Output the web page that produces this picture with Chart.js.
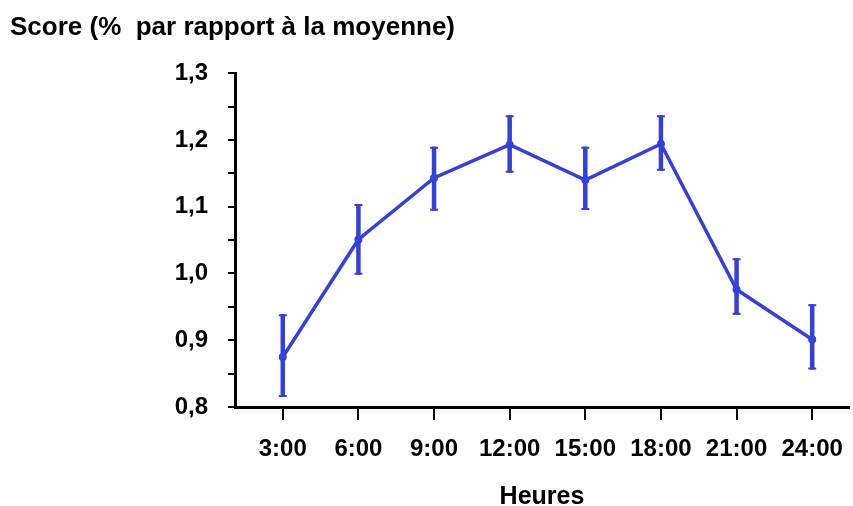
<!DOCTYPE html>
<html>
<head>
<meta charset="utf-8">
<script src="https://cdn.jsdelivr.net/npm/chart.js@4/dist/chart.umd.min.js"></script>
<style>
  html, body { margin: 0; padding: 0; background: #fff; }
  #wrap { width: 853px; height: 506px; }
</style>
</head>
<body>
<div id="wrap"><canvas id="chart"></canvas></div>
<script>
/* data ----------------------------------------------------------- */
const hours      = [3, 6, 9, 12, 15, 18, 21, 24];
const hourLabels = ['3:00', '6:00', '9:00', '12:00', '15:00', '18:00', '21:00', '24:00'];
const scores     = [0.875, 1.051, 1.143, 1.193, 1.140, 1.194, 0.976, 0.901];
const errHigh    = [0.939, 1.104, 1.190, 1.237, 1.190, 1.237, 1.023, 0.954];
const errLow     = [0.815, 0.998, 1.094, 1.151, 1.095, 1.154, 0.938, 0.856];

const BLUE = '#3340dc';
const FONT = "'Liberation Sans', Arial, sans-serif";

/* error bars, drawn through the chart scales ---------------------- */
const errorBars = {
  id: 'errorBars',
  afterDatasetsDraw(chart) {
    const { ctx, scales: { x, y } } = chart;
    ctx.save();
    ctx.strokeStyle = BLUE;
    hours.forEach((h, i) => {
      const px = x.getPixelForValue(h);
      const top = y.getPixelForValue(errHigh[i]);
      const bot = y.getPixelForValue(errLow[i]);
      ctx.lineWidth = 4.5;
      ctx.beginPath();
      ctx.moveTo(px, top); ctx.lineTo(px, bot);
      ctx.stroke();
      ctx.lineWidth = 2;
      ctx.beginPath();
      ctx.moveTo(px - 4, top + 1); ctx.lineTo(px + 4, top + 1);
      ctx.moveTo(px - 4, bot - 1); ctx.lineTo(px + 4, bot - 1);
      ctx.stroke();
    });
    ctx.restore();
  }
};

new Chart(document.getElementById('chart'), {
  type: 'line',
  data: {
    datasets: [{
      data: hours.map((h, i) => ({ x: h, y: scores[i] })),
      borderColor: BLUE,
      backgroundColor: BLUE,
      borderWidth: 3.5,
      pointRadius: 4,
      pointBorderWidth: 0,
      tension: 0
    }]
  },
  options: {
    responsive: true,
    maintainAspectRatio: false,
    animation: false,
    layout: { padding: { left: 10, right: 1, top: 0, bottom: 0 } },
    plugins: {
      legend: { display: false },
      tooltip: { enabled: false },
      title: {
        display: true,
        text: 'Score (%  par rapport à la moyenne)',
        align: 'start',
        color: '#000',
        font: { family: FONT, size: 26, weight: 'bold', lineHeight: 1.2 },
        padding: { top: 12, bottom: 30 }
      }
    },
    scales: {
      x: {
        type: 'linear',
        min: 1.105,
        max: 25.46,
        afterBuildTicks: s => { s.ticks = hours.map(v => ({ value: v })); },
        afterFit: s => { s.height = 99; },
        border: { display: true, color: '#000', width: 3 },
        grid: { drawOnChartArea: false, drawTicks: true, tickLength: 13, tickColor: '#000', lineWidth: 2 },
        ticks: {
          color: '#000',
          padding: 6,
          maxRotation: 0,
          autoSkip: false,
          font: { family: FONT, size: 24, weight: 'bold', lineHeight: 1.95 },
          callback: (v, i) => hourLabels[i]
        },
        title: {
          display: true,
          text: 'Heures',
          color: '#000',
          font: { family: FONT, size: 25, weight: 'bold', lineHeight: 1 },
          padding: { top: 0, bottom: -4 }
        }
      },
      y: {
        min: 0.8,
        max: 1.3,
        afterFit: s => { s.width = 225; },
        border: { display: true, color: '#000', width: 3 },
        grid: { drawOnChartArea: false, drawTicks: true, tickLength: 7, tickColor: '#000', lineWidth: 2 },
        ticks: {
          stepSize: 0.05,
          color: '#000',
          padding: 20,
          font: { family: FONT, size: 24, weight: 'bold' },
          callback: v => {
            const t = Math.round(v * 100);
            return t % 10 === 0 ? (t / 100).toFixed(1).replace('.', ',') : '';
          }
        }
      }
    }
  },
  plugins: [errorBars]
});
</script>
</body>
</html>
